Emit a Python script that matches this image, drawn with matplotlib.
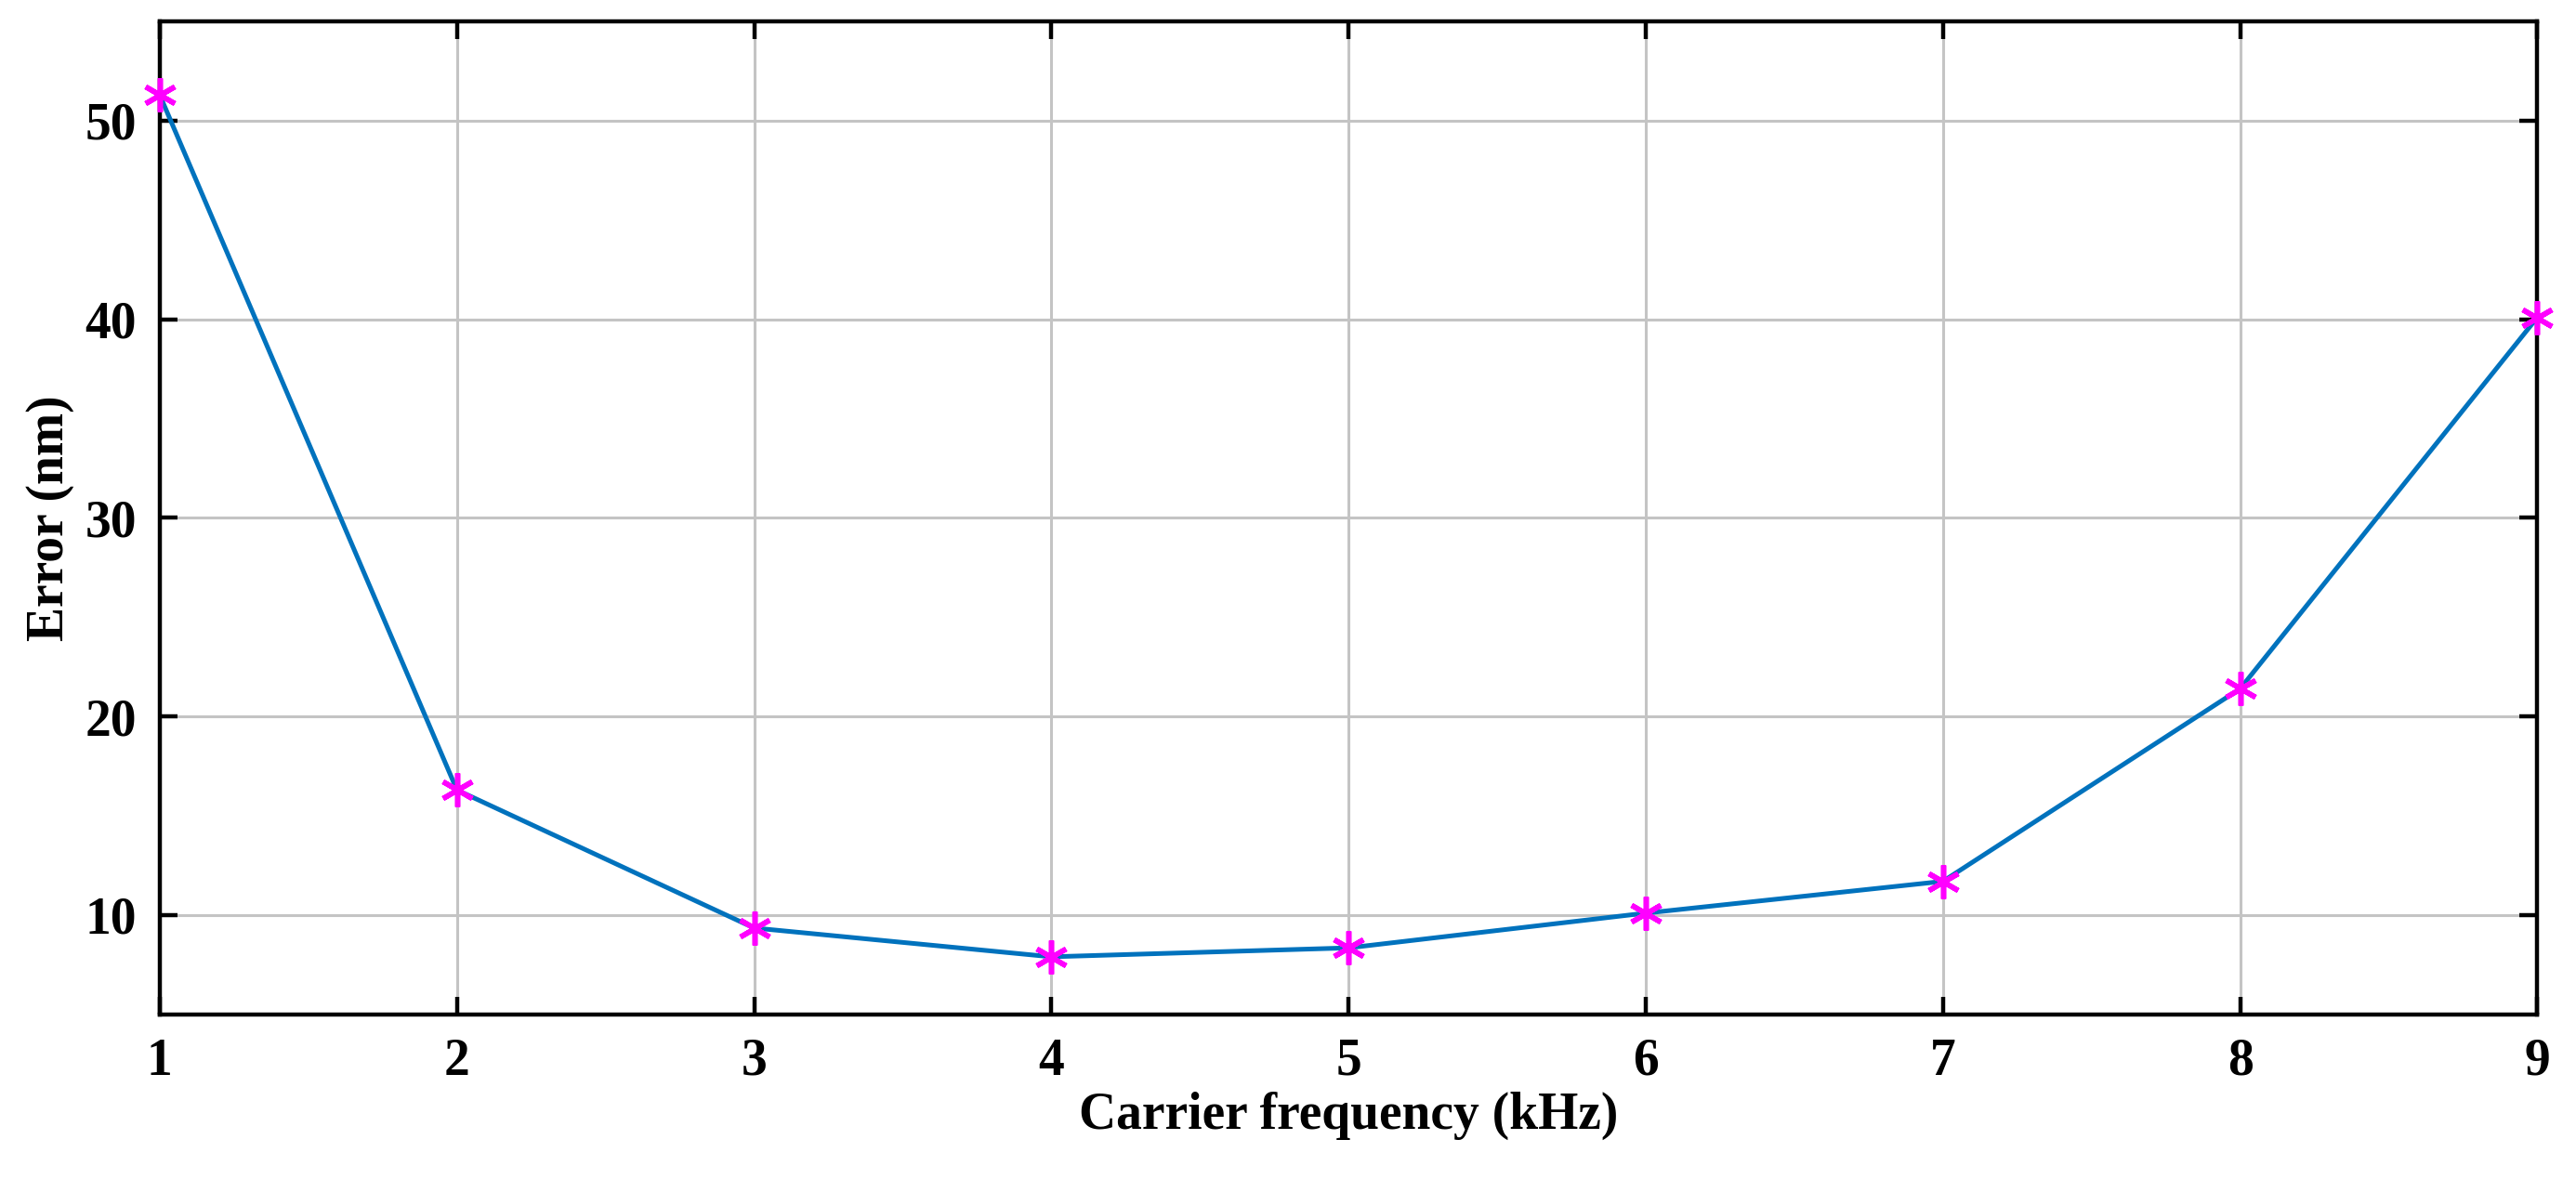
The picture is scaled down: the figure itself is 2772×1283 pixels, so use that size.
import matplotlib
matplotlib.use("Agg")
import matplotlib.pyplot as plt

freq = [1, 2, 3, 4, 5, 6, 7, 8, 9]
error = [51.3, 16.3, 9.35, 7.9, 8.35, 10.1, 11.7, 21.4, 40.1]
yticks = [10, 20, 30, 40, 50]

plt.rcParams['font.family'] = ['Liberation Serif', 'DejaVu Serif']
plt.rcParams['font.weight'] = 'bold'

fig = plt.figure(figsize=(13.86, 6.415), dpi=200)
ax = fig.add_axes([0.062, 0.149, 0.923, 0.833])
ax.plot(freq, error, color='#0072BD', lw=1.8, zorder=3, clip_on=False)
ax.plot(freq, error, ls='none', marker=(6, 2, 0), ms=13, mew=2.0, color='#FF00FF', zorder=4, clip_on=False)
ax.set_xlim(1, 9)
ax.set_ylim(5, 55)
ax.set_xticks(freq)
ax.set_yticks(yticks)
ax.grid(True, color='#c4c4c4', lw=1.1)
ax.tick_params(direction='in', top=True, right=True, labelsize=20, length=7, width=1.6, pad=9)
for s in ax.spines.values():
    s.set_linewidth(1.6)
for lab in ax.get_xticklabels() + ax.get_yticklabels():
    lab.set_fontweight('bold')
ax.set_xlabel('Carrier frequency (kHz)', fontsize=20, fontweight='bold', labelpad=2)
ax.set_ylabel('Error (nm)', fontsize=20, fontweight='bold', labelpad=4)
fig.savefig('out.png', dpi=200)
